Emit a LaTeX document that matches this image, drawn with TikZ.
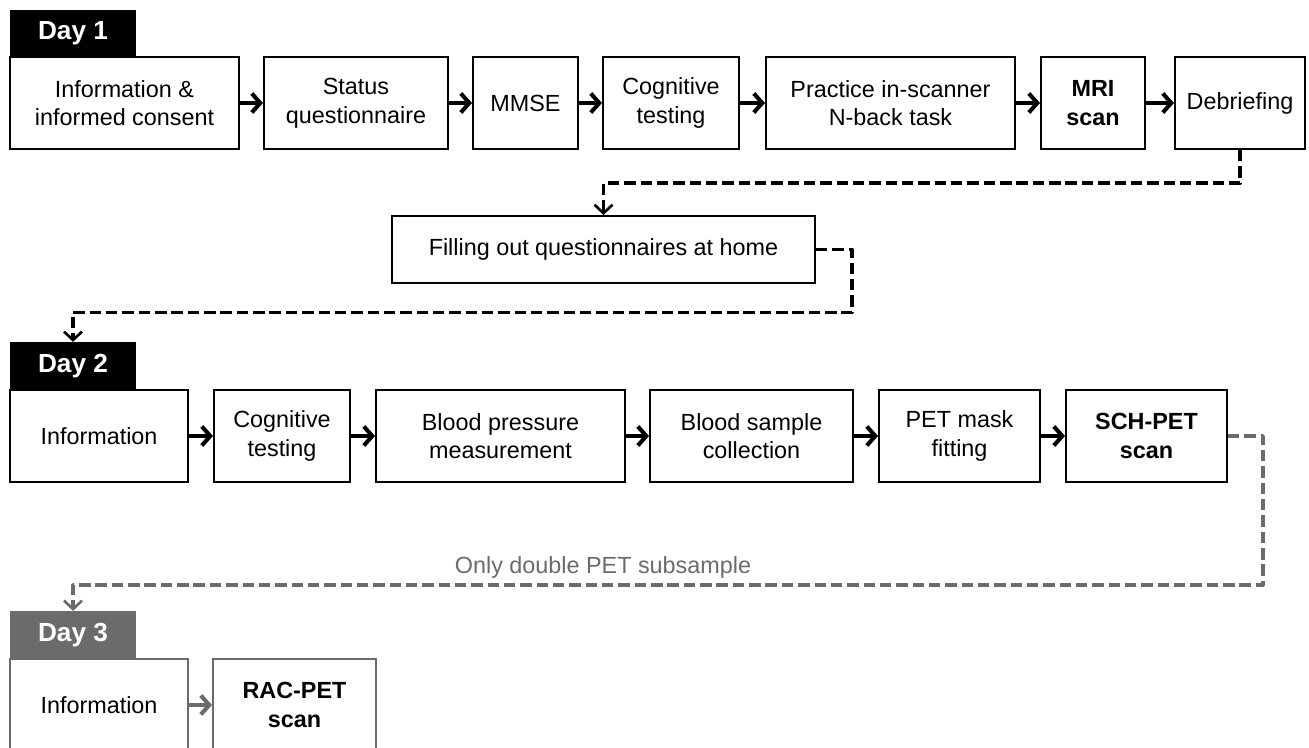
\documentclass[tikz,border=0pt]{standalone}
\usepackage{fontspec}
\setmainfont{Liberation Sans}
\usepackage{tikz}
\usetikzlibrary{positioning, arrows.meta}
\usepackage{xcolor}
\definecolor{daygray}{HTML}{6B6B6B}

\begin{document}
\begin{tikzpicture}[
	every node/.style={font=\fontsize{13.3}{16.3}\selectfont, align=center, inner sep=0pt},
	box/.style={draw, line width=1.1pt, minimum height=1.84cm},
	scan/.style={box, font=\fontsize{13.3}{16.3}\selectfont\bfseries},
	daytab/.style={fill=black, text=white, font=\fontsize{14.9}{17}\selectfont\bfseries, minimum width=2.52cm, minimum height=0.95cm},
	flow/.style={-{Straight Barb[length=1.7mm, width=3.8mm]}, line width=2.3pt},
	link/.style={-{Straight Barb[length=1.7mm, width=3.6mm, line width=1.5pt]}, line width=2.2pt, dash pattern=on 6.5pt off 2.8pt, line join=round}
]
	\clip (0,0) rectangle (26.18,-14.96);

	% Day 1
	\node[daytab] (day1) at (1.46,-0.67) {Day 1};
	\node[box, minimum width=4.58cm] (consent) at (2.49,-2.06)  {Information \&\\informed consent};
	\node[box, minimum width=3.68cm] (status)  at (7.12,-2.06)  {Status\\questionnaire};
	\node[box, minimum width=2.10cm] (mmse)    at (10.51,-2.06) {MMSE};
	\node[box, minimum width=2.72cm] (cog1)    at (13.42,-2.06) {Cognitive\\testing};
	\node[box, minimum width=4.98cm] (nback)   at (17.81,-2.06) {Practice in-scanner\\N-back task};
	\node[scan, minimum width=2.08cm] (mri)    at (21.86,-2.06) {MRI\\scan};
	\node[box, minimum width=2.60cm] (debrief) at (24.80,-2.06) {Debriefing};

	\node[box, minimum width=8.46cm, minimum height=1.34cm] (home) at (12.07,-4.99) {Filling out questionnaires at home};

	% Day 2
	\node[daytab] (day2) at (1.46,-7.32) {Day 2};
	\node[box, minimum width=3.56cm] (info2)  at (1.98,-8.72)  {Information};
	\node[box, minimum width=2.72cm] (cog2)   at (5.64,-8.72)  {Cognitive\\testing};
	\node[box, minimum width=4.98cm] (bp)     at (10.01,-8.72) {Blood pressure\\measurement};
	\node[box, minimum width=4.06cm] (sample) at (15.03,-8.72) {Blood sample\\collection};
	\node[box, minimum width=3.22cm] (mask)   at (19.19,-8.72) {PET mask\\fitting};
	\node[scan, minimum width=3.22cm] (sch)   at (22.93,-8.72) {SCH-PET\\scan};

	\node[text=daygray] (subsample) at (12.06,-11.34) {Only double PET subsample};

	% Day 3
	\node[daytab, fill=daygray] (day3) at (1.46,-12.70) {Day 3};
	\node[box, draw=daygray, minimum width=3.56cm] (info3) at (1.98,-14.10) {Information};
	\node[scan, draw=daygray, minimum width=3.26cm] (rac)  at (5.89,-14.10) {RAC-PET\\scan};

	\foreach \a/\b in {consent/status, status/mmse, mmse/cog1, cog1/nback, nback/mri, mri/debrief,
		info2/cog2, cog2/bp, bp/sample, sample/mask, mask/sch}
		\draw[flow] (\a) -- (\b);
	\draw[flow, daygray] (info3) -- (rac);

	\draw[link] (debrief.south) -- ++(0,-0.66) -| (home.north);
	\draw[link] (home.east) -- ++(0.72,0) -- ++(0,-1.26) -| (day2.north);
	\draw[link, daygray] (sch.east) -- ++(0.70,0) -- ++(0,-2.98) -| (day3.north);
\end{tikzpicture}
\end{document}
